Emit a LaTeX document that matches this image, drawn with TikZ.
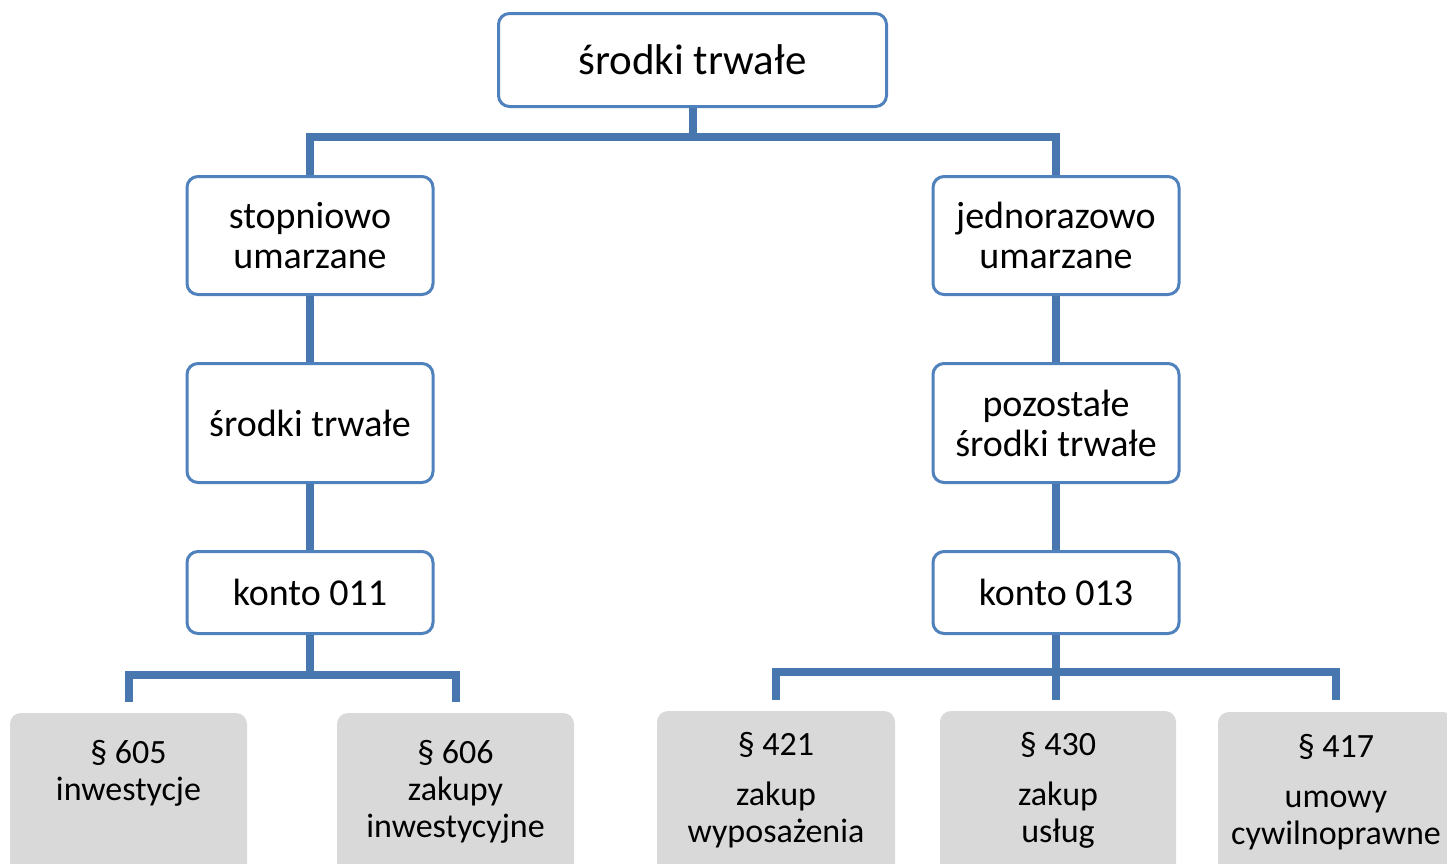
\documentclass[tikz,border=0pt]{standalone}
\usepackage{fontspec}
\setmainfont{Carlito}
\definecolor{bord}{HTML}{4F81BD}
\definecolor{conn}{HTML}{4876AE}
\definecolor{gbox}{HTML}{D9D9D9}
\begin{document}
\begin{tikzpicture}[x=1pt,y=-1pt,
  bluebox/.style={draw=bord, line width=3pt, rounded corners=11pt, fill=white,
    align=center, inner sep=0pt, font=\fontsize{38}{40}\selectfont},
  colbox/.style={bluebox, minimum width=246pt},
  graybox/.style={fill=gbox, rounded corners=11pt, inner sep=0pt, minimum height=220pt},
  lbl/.style={align=center, inner sep=0pt, anchor=north, font=\fontsize{34}{37}\selectfont},
  link/.style={draw=conn, line width=8pt, line join=miter}]
\useasboundingbox (0,0) rectangle (1447,863);
\clip (0,0) rectangle (1447,863);

% blue boxes
\node[bluebox, minimum width=388pt, minimum height=93pt, font=\fontsize{43}{45}\selectfont] (top) at (692.5,60) {środki trwałe};
\node[colbox, minimum height=118pt] (stop) at (310,235.5) {stopniowo\\umarzane};
\node[colbox, minimum height=119pt] (sr1) at (310,423) {środki trwałe};
\node[colbox, minimum height=82pt] (k011) at (310,592.5) {konto 011};
\node[colbox, minimum height=118pt] (jedn) at (1056,235.5) {jednorazowo\\umarzane};
\node[colbox, minimum height=119pt] (poz) at (1056,423) {pozostałe\\środki trwałe};
\node[colbox, minimum height=82pt] (k013) at (1056,592.5) {konto 013};

% gray boxes
\node[graybox, minimum width=237pt] (b605) at (128.5,823) {};
\node[graybox, minimum width=237pt] (b606) at (455.5,823) {};
\node[graybox, minimum width=238pt] (b421) at (776,821) {};
\node[graybox, minimum width=236pt] (b430) at (1058,821) {};
\node[graybox, minimum width=236pt] (b417) at (1336,822) {};

\node[lbl] (t605) at (128.5,740) {§ 605\\inwestycje};
\node[lbl] (t606) at (455.5,740) {§ 606\\zakupy\\inwestycyjne};
\node[lbl] (t421) at (776,732) {§ 421\\[13pt]zakup\\wyposażenia};
\node[lbl] (t430) at (1058,732) {§ 430\\[13pt]zakup\\usług};
\node[lbl] (t417) at (1336,734) {§ 417\\[13pt]umowy\\cywilnoprawne};

% connectors
\coordinate (j1) at (692.5,137);
\draw[link] (top.south) -- (j1);
\draw[link] (stop.north) -- (stop.north |- j1) -- (jedn.north |- j1) -- (jedn.north);
\draw[link] (stop.south) -- (sr1.north);
\draw[link] (sr1.south) -- (k011.north);
\draw[link] (jedn.south) -- (poz.north);
\draw[link] (poz.south) -- (k013.north);

\coordinate (j2) at (310,675);
\draw[link] (k011.south) -- (j2);
\draw[link, shorten <=11pt, shorten >=11pt] (b605.north) -- (b605.north |- j2) -- (b606.north |- j2) -- (b606.north);

\coordinate (j3) at (1056,672);
\draw[link, shorten <=11pt, shorten >=12pt] (b421.north) -- (b421.north |- j3) -- (b417.north |- j3) -- (b417.north);
\draw[link, shorten >=11pt] (k013.south) -- (k013.south |- b430.north);
\end{tikzpicture}
\end{document}
